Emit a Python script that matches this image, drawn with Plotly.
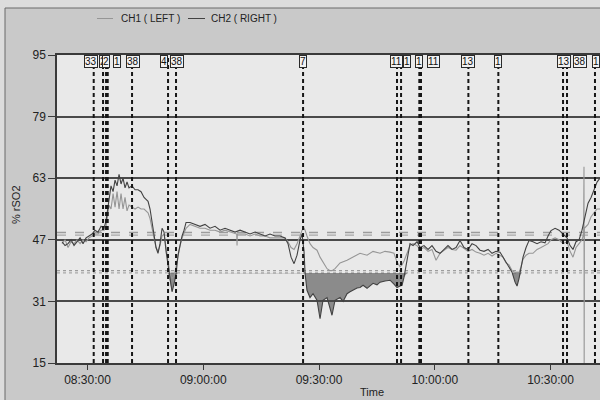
import plotly.graph_objects as go

DAY = "2015-01-01 "

# ---------------- data ----------------
ch2_time = ["08:23:23","08:24:10","08:24:57","08:25:43","08:26:30","08:27:17","08:28:04","08:28:50","08:29:37","08:30:23",
            "08:31:10","08:31:56","08:32:43","08:33:30","08:34:17","08:34:48","08:35:11","08:35:34","08:36:05","08:36:37",
            "08:37:08","08:37:39","08:38:10","08:38:41","08:39:12","08:39:43","08:40:14","08:40:45","08:41:32","08:42:19",
            "08:43:05","08:43:52","08:44:39","08:45:10","08:45:41","08:46:12","08:46:43","08:47:14","08:47:45","08:48:16",
            "08:48:47","08:49:19","08:49:50","08:50:21","08:50:52","08:51:23","08:51:54","08:52:25","08:52:56","08:53:27",
            "08:53:59","08:54:30","08:55:01","08:55:32","08:56:34","08:57:52","08:59:10","09:00:27","09:01:45","09:03:03",
            "09:04:21","09:05:38","09:06:56","09:08:14","09:09:32","09:10:49","09:12:07","09:13:25","09:14:43","09:16:01",
            "09:17:18","09:18:36","09:19:54","09:21:11","09:21:58","09:22:45","09:23:32","09:24:18","09:25:05","09:25:36",
            "09:26:07","09:26:23","09:26:53","09:27:40","09:28:27","09:29:29","09:30:16","09:31:02","09:32:05","09:32:52",
            "09:33:22","09:34:09","09:35:27","09:36:14","09:37:16","09:38:02","09:38:49","09:39:51","09:40:38","09:41:25",
            "09:42:27","09:43:13","09:44:00","09:45:02","09:45:49","09:47:07","09:48:25","09:49:26","09:50:13","09:51:00",
            "09:51:31","09:52:02","09:52:49","09:53:35","09:54:22","09:55:25","09:56:11","09:57:13","09:58:16","09:59:17",
            "10:00:20","10:01:22","10:02:25","10:03:26","10:04:29","10:05:31","10:06:33","10:07:35","10:08:38","10:09:40",
            "10:10:42","10:11:44","10:12:46","10:13:49","10:14:51","10:15:53","10:16:55","10:17:42","10:18:29","10:19:15",
            "10:20:02","10:20:49","10:21:20","10:21:51","10:22:22","10:22:53","10:23:40","10:24:26","10:25:28","10:26:31",
            "10:27:33","10:28:35","10:29:22","10:30:08","10:31:11","10:32:13","10:33:15","10:34:17","10:35:04","10:35:50",
            "10:36:37","10:37:24","10:38:10","10:38:57","10:39:44","10:40:31","10:41:17","10:42:04","10:42:50"]
ch2_val = [46.5,45.5,46,47,45.5,46.5,47.5,46,47.5,48,
           48.5,49.5,49,50.5,50,52,55,58,61,59.5,
           62.5,61,64,61.5,63,60.5,62,60.5,61,60,
           60,59.5,58,57.5,57,55,52,49,45,43.5,
           46,50,49,44,40,36,33.5,35.5,38,43,
           46,48,49.5,51.5,51.5,51,50.5,51,50,50.5,
           49.5,50,49.5,49,49.5,49,48.5,49,48.5,48,
           48.5,48,48,47.5,46,42.5,40.8,43,47,48.5,
           44,38.3,33.9,32,33,31.3,26.5,31.3,32,29,
           27.4,31.3,32,31,33,33.5,33.9,34.5,34.6,35.2,
           34.4,35,35.7,35.3,36,36.3,36.5,35.5,34.6,35,
           35.2,37.3,42,46,45.5,46.5,45,45.5,44.5,45.5,
           44,43.5,44.5,45.5,44.5,45,46.8,45,44.5,46,
           45.5,44.3,44,44.5,43.5,44,43.8,42.5,41.5,40,
           38.6,36,35,37,39.5,42.5,45,46.8,46.5,46,
           46.5,46.2,48,49.4,50,49.5,48.5,47.5,45.5,44.5,
           46.5,47,49.5,53,56.5,58,60,62,63]

ch1_time = ["08:23:23","08:24:10","08:24:57","08:25:43","08:26:30","08:27:17","08:28:04","08:28:50","08:29:37","08:30:23",
            "08:31:10","08:31:56","08:32:43","08:33:30","08:34:17","08:34:48","08:35:11","08:35:34","08:36:05","08:36:37",
            "08:37:08","08:37:39","08:38:10","08:38:41","08:39:12","08:39:43","08:40:14","08:40:45","08:41:32","08:42:19",
            "08:43:05","08:43:52","08:44:39","08:45:10","08:45:41","08:46:12","08:46:43","08:47:14","08:47:45","08:48:16",
            "08:48:47","08:49:19","08:49:50","08:50:21","08:50:52","08:51:23","08:51:54","08:52:25","08:52:56","08:53:27",
            "08:53:59","08:54:30","08:55:01","08:55:32","08:56:34","08:57:52","08:59:10","09:00:27","09:01:45","09:03:03",
            "09:04:21","09:05:38","09:06:56","09:08:14","09:08:40","09:08:45","09:08:50","09:09:32","09:10:49","09:12:07",
            "09:13:25","09:14:43","09:16:01","09:17:18","09:18:36","09:19:54","09:21:11","09:21:58","09:22:45","09:23:32",
            "09:24:18","09:25:05","09:25:36","09:26:07","09:26:23","09:26:53","09:27:40","09:28:27","09:29:29","09:30:16",
            "09:31:02","09:32:05","09:32:52","09:33:22","09:34:09","09:35:27","09:37:16","09:38:49","09:40:38","09:42:27",
            "09:44:00","09:45:49","09:47:07","09:48:25","09:49:26","09:50:13","09:51:00","09:51:31","09:52:02","09:52:49",
            "09:53:35","09:54:22","09:55:25","09:56:11","09:57:13","09:58:16","09:59:17","10:00:20","10:01:22","10:02:25",
            "10:03:26","10:04:29","10:05:31","10:06:33","10:07:35","10:08:38","10:09:40","10:10:42","10:11:44","10:12:46",
            "10:13:49","10:14:51","10:15:53","10:16:55","10:17:42","10:18:29","10:19:15","10:20:02","10:20:49","10:21:20",
            "10:21:51","10:22:22","10:22:53","10:23:40","10:24:26","10:25:28","10:26:31","10:27:33","10:28:35","10:29:22",
            "10:30:08","10:31:11","10:32:13","10:33:15","10:34:17","10:35:04","10:35:50","10:36:37","10:37:24","10:38:10",
            "10:38:35","10:38:41","10:38:44","10:38:47","10:39:44","10:40:31","10:41:17","10:42:04","10:42:50"]
ch1_val = [46,47,45,46.5,46,47,46,47,46.5,47.5,
           48,48.5,48.5,49.5,49.5,50.5,53,56,55,59,
           55.5,59.5,55,59,55,58,54.5,56,55.5,55,
           55.5,55,55,54.5,54,52.5,50,47.5,45,44,
           45.5,48,48.5,45,41,38,37,37.5,40,43,
           45.5,47.5,49,50,51,50.5,50,50,49.5,49.5,
           49,49.5,49,48.5,48.5,45.5,48.5,48.5,48.5,48,
           48.5,48,48,47.5,47.5,47.5,47.5,46.5,45,44.5,
           46,48,49.5,50,49.5,48,46,45,44.3,42.5,
           41.2,39.5,39,39,39.5,41,41.7,42.5,43.5,43,
           44,43.5,44,43.8,43.5,41.2,40,40.5,41.5,43.5,
           45.5,46,45.5,44.5,45,44,44.5,41.7,43.5,44.3,
           45,44.5,44.3,45.5,44.7,44,44.5,43.8,43.5,43,
           43.5,42.8,43.5,43,42.5,41,40.5,39,38.5,38.6,
           38.5,40,42,43,43.5,43.5,44.5,45,45.5,46,
           47,47.5,47,46,46.5,44,42.5,45,46,47,
           48.5,66,15,50,51,53,54,55,55]

# baselines (dashed) and 80% alarm thresholds (dotted)
baseline_ch1 = 48.9
baseline_ch2 = 48.2
threshold_ch1 = 39.0
threshold_ch2 = 38.4

event_time = ["08:31:36","08:34:01","08:34:48","08:35:14","08:41:32","08:50:52","08:52:56","09:25:52","09:50:13",
              "09:51:16","09:56:00","09:56:26","10:08:43","10:16:29","10:33:15","10:34:17","10:41:32"]
event_label = ["33","2","2","1","38","4","38","7","11","1","1","11","13","1","13","38","1"]

y_ticks = [15, 31, 47, 63, 79, 95]
x_ticks = ["08:30:00", "09:00:00", "09:30:00", "10:00:00", "10:30:00"]
x_start, x_end = "08:22:05", "10:42:50"

# ---------------- figure ----------------
W, H = 600, 400
ML, MR, MT, MB = 57, 0, 55, 37
PW, PH = W - ML - MR, H - MT - MB


def px(x):
    return (x - ML) / PW


def py(y):
    return (H - MB - y) / PH


def ts(lst):
    return [DAY + t for t in lst]


FONT = "Liberation Sans, Arial, sans-serif"
fig = go.Figure()

t2 = ts(ch2_time)
t1 = ts(ch1_time)
xr = [DAY + x_start, DAY + x_end]

# reference lines
for val, dash, col in [(baseline_ch1, "dash", "#9c9c9c"), (baseline_ch2, "dash", "#a8a8a8"),
                       (threshold_ch1, "dot", "#9c9c9c"), (threshold_ch2, "dot", "#a8a8a8")]:
    fig.add_trace(go.Scatter(x=xr, y=[val, val], mode="lines",
                             line=dict(color=col, width=1.3, dash=dash),
                             hoverinfo="skip", showlegend=False))

# shaded area below threshold for CH2
fig.add_trace(go.Scatter(x=t2, y=[threshold_ch2] * len(t2), mode="lines",
                         line=dict(width=0), hoverinfo="skip", showlegend=False))
fig.add_trace(go.Scatter(x=t2, y=[min(v, threshold_ch2) for v in ch2_val], mode="lines",
                         line=dict(width=0), fill="tonexty", fillcolor="rgba(70,70,70,0.58)",
                         hoverinfo="skip", showlegend=False))

fig.add_trace(go.Scatter(x=t1, y=ch1_val, mode="lines", name="CH1 ( LEFT )",
                         line=dict(color="#969696", width=1.1), showlegend=False))
fig.add_trace(go.Scatter(x=t2, y=ch2_val, mode="lines", name="CH2 ( RIGHT )",
                         line=dict(color="#424242", width=1.1), showlegend=False))

shapes = []
# outer light strips and frame border (outside the plot area)
shapes.append(dict(type="rect", xref="paper", yref="paper", x0=px(-5), x1=px(640), y0=py(8), y1=py(-5),
                   fillcolor="#dcdcdc", line=dict(width=0), layer="below"))
shapes.append(dict(type="rect", xref="paper", yref="paper", x0=px(-5), x1=px(5), y0=py(420), y1=py(8),
                   fillcolor="#dcdcdc", line=dict(width=0), layer="below"))
shapes.append(dict(type="line", xref="paper", yref="paper", x0=px(5), x1=px(640), y0=py(8), y1=py(8),
                   line=dict(color="#6a6a6a", width=1), layer="below"))
shapes.append(dict(type="line", xref="paper", yref="paper", x0=px(5), x1=px(5), y0=py(420), y1=py(8),
                   line=dict(color="#6a6a6a", width=1), layer="below"))
# event marker lines
for t in event_time:
    shapes.append(dict(type="line", xref="x", yref="paper", x0=DAY + t, x1=DAY + t, y0=0, y1=1,
                       line=dict(color="#161616", width=2, dash="4px,3px"), layer="above"))
# legend samples
shapes.append(dict(type="line", xref="paper", yref="paper", x0=px(97), x1=px(113), y0=py(18.5), y1=py(18.5),
                   line=dict(color="#969696", width=1)))
shapes.append(dict(type="line", xref="paper", yref="paper", x0=px(188), x1=px(205), y0=py(18.5), y1=py(18.5),
                   line=dict(color="#424242", width=1)))

annotations = []
label_shift = [-3, 0, 0, 9, 1, -4, 1, 0, -1, 6, 0, 13, 0, 0, 1, 13, 1]
for t, lab, sh in zip(event_time, event_label, label_shift):
    annotations.append(dict(x=DAY + t, y=1, xref="x", yref="paper", yanchor="top", xanchor="center",
                            text=lab, showarrow=False, xshift=sh,
                            font=dict(family=FONT, size=10, color="#111"),
                            bgcolor="#f2f2f2", bordercolor="#2a2a2a", borderwidth=1, borderpad=0))
annotations.append(dict(x=px(119), y=py(18.5), xref="paper", yref="paper", xanchor="left", yanchor="middle",
                        text="CH1 ( LEFT )", showarrow=False, font=dict(family=FONT, size=10, color="#222")))
annotations.append(dict(x=px(209), y=py(18.5), xref="paper", yref="paper", xanchor="left", yanchor="middle",
                        text="CH2 ( RIGHT )", showarrow=False, font=dict(family=FONT, size=10, color="#222")))
annotations.append(dict(x=px(372), y=py(392), xref="paper", yref="paper", xanchor="center", yanchor="middle",
                        text="Time", showarrow=False, font=dict(family=FONT, size=11, color="#222")))
annotations.append(dict(x=px(16), y=py(205), xref="paper", yref="paper", xanchor="center", yanchor="middle",
                        text="% rSO2", textangle=-90, showarrow=False,
                        font=dict(family=FONT, size=11, color="#222")))

fig.update_layout(
    width=W, height=H,
    margin=dict(l=ML, r=MR, t=MT, b=MB, pad=0),
    paper_bgcolor="#c9c9c9",
    plot_bgcolor="#e9e9e9",
    shapes=shapes,
    annotations=annotations,
    showlegend=False,
    font=dict(family=FONT, size=12, color="#222"),
)
fig.update_xaxes(type="date", range=xr, tickvals=ts(x_ticks), ticktext=x_ticks,
                 showgrid=False, zeroline=False,
                 showline=True, linecolor="#3a3a3a", linewidth=1.5, mirror=True,
                 ticks="outside", ticklen=5, tickcolor="#3a3a3a", tickwidth=1,
                 tickfont=dict(family=FONT, size=12, color="#222"))
fig.update_yaxes(range=[15, 95], tickvals=y_ticks, showgrid=True, gridcolor="#4a4a4a", gridwidth=1.5,
                 zeroline=False, showline=True, linecolor="#3a3a3a", linewidth=1.5,
                 ticks="outside", ticklen=7, tickcolor="#3a3a3a", tickwidth=1,
                 tickfont=dict(family=FONT, size=12, color="#222"))

fig.write_html("out.html", config={"displayModeBar": False},
               post_script="document.body.style.margin='0px';document.body.style.background='#c9c9c9';")
